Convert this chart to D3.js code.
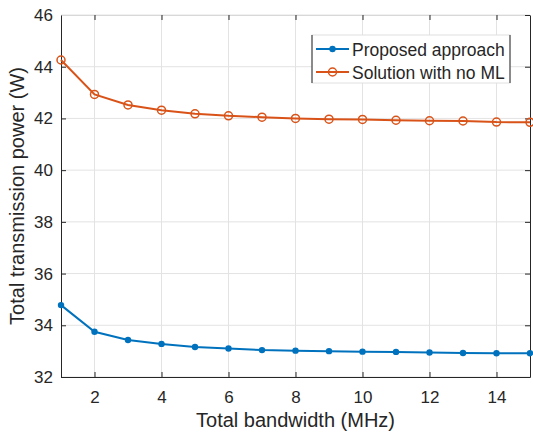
<!DOCTYPE html>
<html>
<head>
<meta charset="utf-8">
<script src="https://cdn.jsdelivr.net/npm/d3@7"></script>
<style>
  body { margin: 0; background: #fff; }
  svg { font-family: "Liberation Sans", Arial, sans-serif; }
</style>
</head>
<body>
<div id="chart"></div>
<script>
// Data
const bandwidth = [1, 2, 3, 4, 5, 6, 7, 8, 9, 10, 11, 12, 13, 14, 15];
const proposed = [34.78, 33.75, 33.43, 33.28, 33.16, 33.10, 33.04, 33.02, 33.00, 32.98, 32.97, 32.95, 32.93, 32.92, 32.92];
const noML = [44.26, 42.93, 42.52, 42.32, 42.18, 42.10, 42.05, 42.00, 41.97, 41.96, 41.93, 41.91, 41.90, 41.86, 41.85];
const xTicks = [2, 4, 6, 8, 10, 12, 14];
const yTicks = [32, 34, 36, 38, 40, 42, 44, 46];
const seriesNames = ['Proposed approach', 'Solution with no ML'];

const W = 533, H = 433;
const margin = { left: 61, right: 3, top: 15, bottom: 56 };
const blue = '#0072BD', orange = '#D95319', axisColor = '#262626';

const svg = d3.select('#chart').append('svg')
    .attr('width', W)
    .attr('height', H);

const x = d3.scaleLinear().domain([1, 15]).range([margin.left, W - margin.right]);
const y = d3.scaleLinear().domain([32, 46]).range([H - margin.bottom, margin.top]);

// Grid
const grid = svg.append('g').attr('stroke', '#e3e3e3').attr('stroke-width', 1);
xTicks.forEach(t => {
    grid.append('line')
        .attr('x1', x(t)).attr('x2', x(t))
        .attr('y1', y(32)).attr('y2', y(46));
});
yTicks.forEach(t => {
    grid.append('line')
        .attr('x1', x(1)).attr('x2', x(15))
        .attr('y1', y(t)).attr('y2', y(t));
});

// Axes (MATLAB style, ticks inside)
const xAxis = d3.axisBottom(x).tickValues(xTicks).tickSizeInner(-5).tickSizeOuter(0).tickPadding(14);
const yAxis = d3.axisLeft(y).tickValues(yTicks).tickSizeInner(-5).tickSizeOuter(0).tickPadding(8);

const gx = svg.append('g')
    .attr('transform', `translate(0,${y(32)})`)
    .call(xAxis);
const gy = svg.append('g')
    .attr('transform', `translate(${x(1)},0)`)
    .call(yAxis);

[gx, gy].forEach(g => {
    g.select('.domain').attr('stroke', axisColor);
    g.selectAll('.tick line').attr('stroke', axisColor);
    g.selectAll('.tick text')
        .attr('fill', axisColor)
        .style('font-size', '17px')
        .style('font-family', '"Liberation Sans", Arial, sans-serif');
});

// Top and right box edges with ticks
const gTop = svg.append('g')
    .attr('transform', `translate(0,${y(46)})`)
    .call(d3.axisTop(x).tickValues(xTicks).tickSizeInner(-5).tickSizeOuter(0).tickFormat(''));
gTop.select('.domain').attr('stroke', '#d8d8d8');
gTop.selectAll('.tick line').attr('stroke', axisColor);

const gRight = svg.append('g')
    .attr('transform', `translate(${x(15)},0)`)
    .call(d3.axisRight(y).tickValues(yTicks).tickSizeInner(-5).tickSizeOuter(0).tickFormat(''));
gRight.select('.domain').attr('stroke', axisColor);
gRight.selectAll('.tick line').attr('stroke', axisColor);

// Axis labels
svg.append('text')
    .attr('x', (x(1) + x(15)) / 2)
    .attr('y', H - 6)
    .attr('text-anchor', 'middle')
    .attr('fill', axisColor)
    .style('font-size', '20px')
    .text('Total bandwidth (MHz)');

svg.append('text')
    .attr('transform', `translate(24,${(y(32) + y(46)) / 2}) rotate(-90)`)
    .attr('text-anchor', 'middle')
    .attr('fill', axisColor)
    .style('font-size', '20px')
    .text('Total transmission power (W)');

// Lines
const line = d3.line()
    .x((d, i) => x(bandwidth[i]))
    .y(d => y(d));

const plot = svg.append('g');

plot.append('path')
    .datum(noML)
    .attr('d', line)
    .attr('fill', 'none')
    .attr('stroke', orange)
    .attr('stroke-width', 2);

plot.selectAll('circle.noml')
    .data(noML)
    .enter()
    .append('circle')
    .attr('class', 'noml')
    .attr('cx', (d, i) => x(bandwidth[i]))
    .attr('cy', d => y(d))
    .attr('r', 4)
    .attr('fill', 'none')
    .attr('stroke', orange)
    .attr('stroke-width', 1.5);

plot.append('path')
    .datum(proposed)
    .attr('d', line)
    .attr('fill', 'none')
    .attr('stroke', blue)
    .attr('stroke-width', 2);

plot.selectAll('circle.prop')
    .data(proposed)
    .enter()
    .append('circle')
    .attr('class', 'prop')
    .attr('cx', (d, i) => x(bandwidth[i]))
    .attr('cy', d => y(d))
    .attr('r', 3.2)
    .attr('fill', blue);

// Legend
const lg = svg.append('g').attr('transform', 'translate(312,35)');
const lgW = 198, lgH = 48;
lg.append('rect')
    .attr('width', lgW).attr('height', lgH)
    .attr('fill', '#fff')
    .attr('stroke', '#e0e0e0');
lg.append('line').attr('x1', 0).attr('x2', 0).attr('y1', 0).attr('y2', lgH).attr('stroke', axisColor);
lg.append('line').attr('x1', lgW).attr('x2', lgW).attr('y1', 0).attr('y2', lgH).attr('stroke', axisColor);

const colors = [blue, orange];
seriesNames.forEach((name, i) => {
    const cy = 14 + i * 23;
    lg.append('line')
        .attr('x1', 4).attr('x2', 37)
        .attr('y1', cy).attr('y2', cy)
        .attr('stroke', colors[i])
        .attr('stroke-width', 2);
    if (i === 0) {
        lg.append('circle').attr('cx', 20.5).attr('cy', cy).attr('r', 3.2).attr('fill', blue);
    } else {
        lg.append('circle').attr('cx', 20.5).attr('cy', cy).attr('r', 4)
            .attr('fill', 'none').attr('stroke', orange).attr('stroke-width', 1.5);
    }
    lg.append('text')
        .attr('x', 40)
        .attr('y', cy + 6.5)
        .attr('fill', axisColor)
        .style('font-size', '17.5px')
        .text(name);
});
</script>
</body>
</html>
